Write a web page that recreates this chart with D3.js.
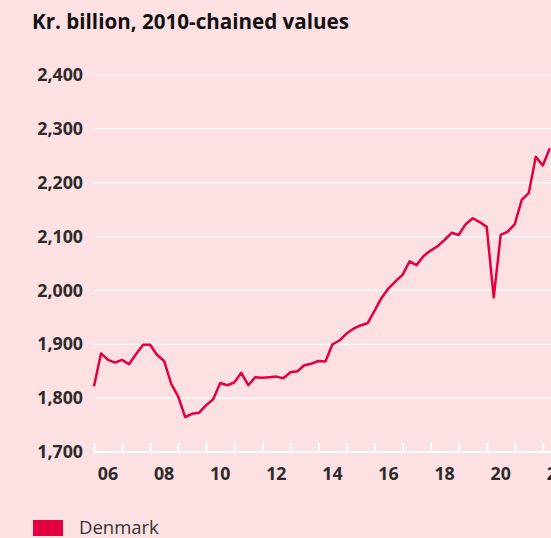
<!DOCTYPE html>
<html>
<head>
<meta charset="utf-8">
<script src="https://cdn.jsdelivr.net/npm/d3@7"></script>
<style>
    body { margin: 0; overflow: hidden; background: #fde1e2; }
    svg { display: block; }
    text { font-family: "Open Sans", sans-serif; }
</style>
</head>
<body>
<div id="chart"></div>
<script>
// Data: quarterly GDP, kr. billion (2010-chained), first quarter 2006Q1
const firstYear = 2006;
const gdpValues = [
    1822, 1883, 1871, 1866, 1871, 1863, 1882, 1899, 1899, 1880,
    1869, 1827, 1803, 1765, 1771, 1773, 1787, 1798, 1828, 1824,
    1829, 1847, 1824, 1839, 1838, 1839, 1840, 1837, 1848, 1850,
    1861, 1864, 1869, 1868, 1900, 1907, 1920, 1929, 1935, 1939,
    1962, 1986, 2004, 2017, 2029, 2054, 2047, 2064, 2074, 2082,
    2094, 2107, 2103, 2123, 2134, 2127, 2118, 1987, 2103, 2109,
    2123, 2168, 2181, 2248, 2232, 2264
];
const yTicks = [1700, 1800, 1900, 2000, 2100, 2200, 2300, 2400];
const xTickYears = [2006, 2007, 2008, 2009, 2010, 2011, 2012, 2013, 2014, 2015,
    2016, 2017, 2018, 2019, 2020, 2021, 2022, 2023];
const xLabelYears = [2006, 2008, 2010, 2012, 2014, 2016, 2018, 2020, 2022];
const legendLabel = "Denmark";
const titleText = "Kr. billion, 2010-chained values";

const bg = "#fde1e2";
const lineColor = "#e4003f";
const textColor = "#2b2b2b";

const width = 620;
const height = 538;

const svg = d3.select("#chart")
    .append("svg")
    .attr("width", width)
    .attr("height", height);

svg.append("rect")
    .attr("width", width)
    .attr("height", height)
    .attr("fill", bg);

// Scales
const xScale = d3.scaleLinear()
    .domain([2006, 2023])
    .range([94, 94 + 17 * 28.05]);

const yScale = d3.scaleLinear()
    .domain([1700, 2400])
    .range([452, 75]);

// Title
svg.append("text")
    .attr("x", 32)
    .attr("y", 29)
    .attr("fill", "#111")
    .attr("font-size", 20.6)
    .attr("font-weight", "bold")
    .text(titleText);

// gridlines
svg.selectAll(".grid")
    .data(yTicks.slice(1))
    .enter()
    .append("line")
    .attr("class", "grid")
    .attr("x1", 93)
    .attr("x2", width)
    .attr("y1", function (d) { return yScale(d); })
    .attr("y2", function (d) { return yScale(d); })
    .attr("stroke", "white")
    .attr("stroke-width", 1.2);

// y axis labels
const yAxis = d3.axisLeft(yScale)
    .tickValues(yTicks)
    .tickSize(0)
    .tickPadding(0)
    .tickFormat(d3.format(","));

const yAxisG = svg.append("g")
    .attr("transform", "translate(83,0)")
    .call(yAxis);
yAxisG.select(".domain").remove();
yAxisG.selectAll("text")
    .attr("fill", textColor)
    .attr("font-size", 17.8)
    .attr("font-weight", "bold")
    .attr("font-family", "Open Sans, sans-serif");

// x axis: white base line with year ticks
const xAxis = d3.axisTop(xScale)
    .tickValues(xTickYears)
    .tickSize(9)
    .tickFormat("");

const xAxisG = svg.append("g")
    .attr("transform", "translate(0,452)")
    .call(xAxis);
xAxisG.select(".domain").remove();
xAxisG.selectAll(".tick line")
    .attr("stroke", "white")
    .attr("stroke-width", 2);

svg.append("line")
    .attr("x1", 93)
    .attr("x2", width)
    .attr("y1", 452)
    .attr("y2", 452)
    .attr("stroke", "white")
    .attr("stroke-width", 2.2);

// year labels centred in the year
svg.selectAll(".xlabel")
    .data(xLabelYears)
    .enter()
    .append("text")
    .attr("class", "xlabel")
    .attr("x", function (d) { return xScale(d + 0.5); })
    .attr("y", 480)
    .attr("text-anchor", "middle")
    .attr("fill", textColor)
    .attr("font-size", 17.8)
    .attr("font-weight", "bold")
    .text(function (d) { return String(d).slice(-2); });

// the line
const line = d3.line()
    .x(function (d, i) { return xScale(firstYear + i / 4); })
    .y(function (d) { return yScale(d); });

svg.append("path")
    .datum(gdpValues)
    .attr("d", line)
    .attr("fill", "none")
    .attr("stroke", lineColor)
    .attr("stroke-width", 2.5)
    .attr("stroke-linejoin", "round");

// Legend
svg.append("rect")
    .attr("x", 33)
    .attr("y", 520)
    .attr("width", 30)
    .attr("height", 16)
    .attr("fill", lineColor);

svg.append("text")
    .attr("x", 79)
    .attr("y", 534)
    .attr("fill", "#333")
    .attr("font-size", 18.5)
    .text(legendLabel);
</script>
</body>
</html>
